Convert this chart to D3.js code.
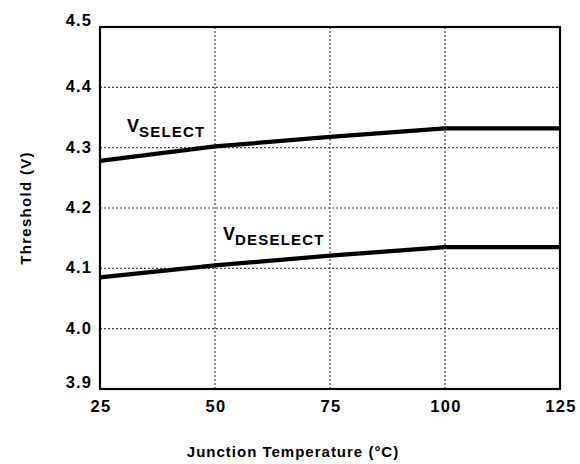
<!DOCTYPE html>
<html>
<head>
<meta charset="utf-8">
<script src="https://cdn.jsdelivr.net/npm/d3@7"></script>
<style>
  body { margin: 0; background: #fff; }
  text { font-family: "Liberation Sans", Arial, sans-serif; font-weight: bold; fill: #000; }
</style>
</head>
<body>
<script>
'use strict';

var temps = [25, 50, 75, 100, 125];
var vSelect = [4.278, 4.302, 4.318, 4.332, 4.332];
var vDeselect = [4.085, 4.105, 4.121, 4.135, 4.135];
var xTicks = [25, 50, 75, 100, 125];
var yTicks = [3.9, 4.0, 4.1, 4.2, 4.3, 4.4, 4.5];

var w = 580, h = 464;
var pLeft = 100, pRight = 560, pTop = 27, pBottom = 389;

var svg = d3.select('body').append('svg')
  .attr('width', w)
  .attr('height', h);

var x = d3.scaleLinear().domain([25, 125]).range([pLeft, pRight]);
var y = d3.scaleLinear().domain([3.9, 4.5]).range([pBottom, pTop]);

// grid
svg.append('g').selectAll('line')
  .data(xTicks.slice(1, -1))
  .enter().append('line')
  .attr('x1', function (d) { return x(d); })
  .attr('x2', function (d) { return x(d); })
  .attr('y1', pTop).attr('y2', pBottom)
  .attr('stroke', '#444').attr('stroke-width', 1.2)
  .attr('stroke-dasharray', '2,2');

svg.append('g').selectAll('line')
  .data(yTicks.slice(1, -1))
  .enter().append('line')
  .attr('y1', function (d) { return y(d); })
  .attr('y2', function (d) { return y(d); })
  .attr('x1', pLeft).attr('x2', pRight)
  .attr('stroke', '#444').attr('stroke-width', 1.2)
  .attr('stroke-dasharray', '2,2');

// frame
svg.append('rect')
  .attr('x', pLeft).attr('y', pTop)
  .attr('width', pRight - pLeft).attr('height', pBottom - pTop)
  .attr('fill', 'none').attr('stroke', '#000').attr('stroke-width', 2.2);

// tick labels: top label sits above the frame, bottom one inside it
svg.append('g').selectAll('text')
  .data(yTicks)
  .enter().append('text')
  .attr('x', pLeft - 8)
  .attr('y', function (d, i) {
    if (i === yTicks.length - 1) return pTop - 1;
    if (i === 0) return pBottom - 1;
    return y(d) + 5;
  })
  .attr('text-anchor', 'end')
  .attr('font-size', 16.5)
  .attr('letter-spacing', 1.1)
  .text(function (d) { return d.toFixed(1); });

svg.append('g').selectAll('text')
  .data(xTicks)
  .enter().append('text')
  .attr('x', function (d) { return x(d) + 1; })
  .attr('y', 412)
  .attr('text-anchor', 'middle')
  .attr('font-size', 16.5)
  .attr('letter-spacing', 1.3)
  .text(function (d) { return d; });

// lines
var line = d3.line()
  .x(function (d, i) { return x(temps[i]); })
  .y(function (d) { return y(d); });

[vSelect, vDeselect].forEach(function (s) {
  svg.append('path')
    .attr('d', line(s))
    .attr('fill', 'none')
    .attr('stroke', '#000')
    .attr('stroke-width', 4.2);
});

// series labels
function label(px, py, sub) {
  var t = svg.append('text')
    .attr('x', px).attr('y', py)
    .attr('font-size', 18);
  t.append('tspan').text('V');
  t.append('tspan')
    .attr('dy', 5)
    .attr('font-size', 15)
    .attr('letter-spacing', 1.2)
    .text(sub);
}
label(127, 132, 'SELECT');
label(223, 240, 'DESELECT');

// axis titles
svg.append('text')
  .attr('x', 293)
  .attr('y', 457)
  .attr('text-anchor', 'middle')
  .attr('font-size', 15)
  .attr('letter-spacing', 1)
  .text('Junction Temperature (°C)');

svg.append('text')
  .attr('transform', 'translate(31,208) rotate(-90)')
  .attr('text-anchor', 'middle')
  .attr('font-size', 15)
  .attr('letter-spacing', 1.3)
  .text('Threshold (V)');
</script>
</body>
</html>
